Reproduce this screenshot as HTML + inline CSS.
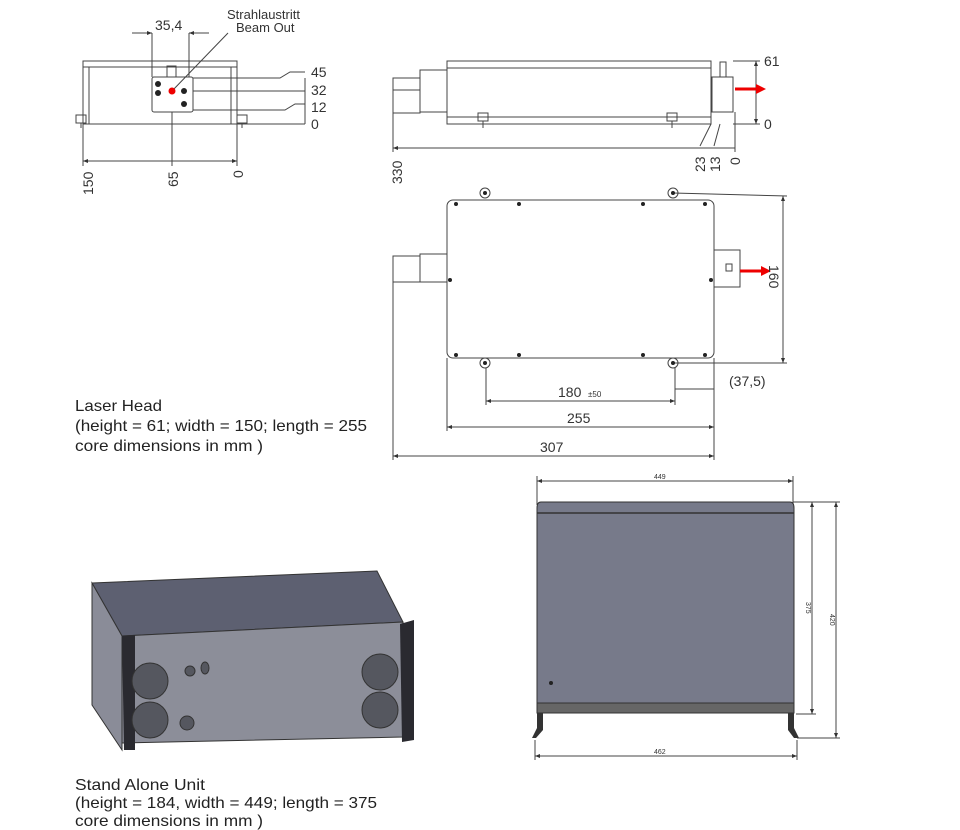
<!DOCTYPE html>
<html><head><meta charset="utf-8"><style>
html,body{margin:0;padding:0;background:#fff;}
svg{display:block;font-family:"Liberation Sans",sans-serif;}
</style></head><body>
<svg width="960" height="830" viewBox="0 0 960 830" xmlns="http://www.w3.org/2000/svg">
<defs>
<marker id="a" viewBox="0 0 10 10" refX="10" refY="5" markerWidth="6" markerHeight="5" orient="auto-start-reverse"><path d="M0,1 L10,5 L0,9z" fill="#333"/></marker>
</defs>
<g fill="none" stroke="#444" stroke-width="1">
<rect x="83" y="61" width="154" height="63"/>
<line x1="83" y1="67" x2="237" y2="67"/>
<line x1="89" y1="67" x2="89" y2="124"/><line x1="231" y1="67" x2="231" y2="124"/>
<rect x="76" y="115" width="10" height="8"/><line x1="81" y1="123" x2="81" y2="128"/>
<rect x="237" y="115" width="10" height="8"/><line x1="242" y1="123" x2="242" y2="128"/>
<rect x="152" y="77" width="41" height="35" rx="2"/>
<rect x="167" y="66" width="9" height="11"/>
<line x1="152" y1="33" x2="152" y2="77"/><line x1="189" y1="33" x2="189" y2="77"/>
<line x1="132" y1="33" x2="152" y2="33" marker-end="url(#a)"/>
<line x1="209" y1="33" x2="189" y2="33" marker-end="url(#a)"/>
<line x1="172" y1="91" x2="228" y2="33"/>
<line x1="172" y1="112" x2="172" y2="166"/>
<line x1="83" y1="124" x2="83" y2="166"/><line x1="237" y1="124" x2="237" y2="166"/>
<line x1="172" y1="161" x2="83" y2="161" marker-end="url(#a)"/>
<line x1="172" y1="161" x2="237" y2="161" marker-end="url(#a)"/>
<path d="M193 78 L280 78 L290 72 L305 72"/>
<path d="M193 91 L305 91"/>
<path d="M193 110 L285 110 L295 104 L305 104"/>
<path d="M237 124 L305 124"/>
<line x1="305" y1="78" x2="305" y2="124"/>
<rect x="447" y="61" width="264" height="63"/>
<line x1="447" y1="68" x2="711" y2="68"/>
<line x1="447" y1="117" x2="711" y2="117"/>
<rect x="420" y="70" width="27" height="42"/>
<rect x="393" y="78" width="27" height="35"/>
<line x1="393" y1="90" x2="420" y2="90"/>
<rect x="478" y="113" width="10" height="8"/><line x1="483" y1="121" x2="483" y2="128"/>
<rect x="667" y="113" width="10" height="8"/><line x1="672" y1="121" x2="672" y2="128"/>
<rect x="712" y="77" width="21" height="35"/>
<rect x="720" y="62" width="6" height="15"/>
<line x1="733" y1="61" x2="760" y2="61"/><line x1="733" y1="124" x2="760" y2="124"/>
<line x1="756" y1="92" x2="756" y2="61" marker-end="url(#a)"/>
<line x1="756" y1="92" x2="756" y2="124" marker-end="url(#a)"/>
<line x1="393" y1="113" x2="393" y2="152"/>
<path d="M711 124 L700 146"/><path d="M720 124 L714 146"/><line x1="735" y1="112" x2="735" y2="152"/>
<line x1="560" y1="148" x2="393" y2="148" marker-end="url(#a)"/>
<line x1="560" y1="148" x2="735" y2="148"/>
<rect x="447" y="200" width="267" height="158" rx="6"/>
<rect x="420" y="254" width="27" height="28"/>
<rect x="393" y="256" width="27" height="26"/>
<rect x="714" y="250" width="26" height="37"/>
<rect x="726" y="264" width="6" height="7"/>
<circle cx="485" cy="193" r="5"/><circle cx="673" cy="193" r="5"/>
<circle cx="485" cy="363" r="5"/><circle cx="673" cy="363" r="5"/>
<line x1="673" y1="193" x2="787" y2="196"/><line x1="673" y1="363" x2="787" y2="363"/>
<line x1="783" y1="280" x2="783" y2="196" marker-end="url(#a)"/>
<line x1="783" y1="280" x2="783" y2="363" marker-end="url(#a)"/>
<line x1="486" y1="368" x2="486" y2="405"/><line x1="675" y1="368" x2="675" y2="405"/>
<line x1="580" y1="401" x2="486" y2="401" marker-end="url(#a)"/>
<line x1="580" y1="401" x2="675" y2="401" marker-end="url(#a)"/>
<line x1="675" y1="389" x2="714" y2="389"/>
<line x1="714" y1="358" x2="714" y2="460"/>
<line x1="447" y1="358" x2="447" y2="431"/>
<line x1="393" y1="282" x2="393" y2="460"/>
<line x1="580" y1="427" x2="447" y2="427" marker-end="url(#a)"/>
<line x1="580" y1="427" x2="714" y2="427" marker-end="url(#a)"/>
<line x1="553" y1="456" x2="393" y2="456" marker-end="url(#a)"/>
<line x1="553" y1="456" x2="714" y2="456" marker-end="url(#a)"/>
<line x1="537" y1="476" x2="537" y2="505"/><line x1="793" y1="476" x2="793" y2="505"/>
<line x1="665" y1="481" x2="537" y2="481" marker-end="url(#a)"/>
<line x1="665" y1="481" x2="793" y2="481" marker-end="url(#a)"/>
<line x1="793" y1="502" x2="840" y2="502"/><line x1="796" y1="714" x2="816" y2="714"/><line x1="797" y1="738" x2="840" y2="738"/>
<line x1="812" y1="608" x2="812" y2="502" marker-end="url(#a)"/>
<line x1="812" y1="608" x2="812" y2="714" marker-end="url(#a)"/>
<line x1="836" y1="620" x2="836" y2="502" marker-end="url(#a)"/>
<line x1="836" y1="620" x2="836" y2="738" marker-end="url(#a)"/>
<line x1="535" y1="740" x2="535" y2="760"/><line x1="797" y1="740" x2="797" y2="760"/>
<line x1="665" y1="756" x2="535" y2="756" marker-end="url(#a)"/>
<line x1="665" y1="756" x2="797" y2="756" marker-end="url(#a)"/>
</g>
<g fill="#222">
<circle cx="158" cy="84" r="3"/><circle cx="158" cy="93" r="3"/><circle cx="184" cy="91" r="3"/><circle cx="184" cy="104" r="3"/>
<circle cx="456" cy="204" r="2"/><circle cx="519" cy="204" r="2"/><circle cx="643" cy="204" r="2"/><circle cx="705" cy="204" r="2"/>
<circle cx="456" cy="355" r="2"/><circle cx="519" cy="355" r="2"/><circle cx="643" cy="355" r="2"/><circle cx="705" cy="355" r="2"/>
<circle cx="450" cy="280" r="2"/><circle cx="711" cy="280" r="2"/>
<circle cx="485" cy="193" r="2"/><circle cx="673" cy="193" r="2"/><circle cx="485" cy="363" r="2"/><circle cx="673" cy="363" r="2"/>
</g>
<circle cx="172" cy="91" r="3.5" fill="#e00"/>
<g fill="#e00" stroke="#e00" stroke-width="3">
<line x1="735" y1="89" x2="757" y2="89"/><path d="M756 84 L766 89 L756 94z" stroke="none"/>
<line x1="740" y1="271" x2="762" y2="271"/><path d="M761 266 L771 271 L761 276z" stroke="none"/>
</g>
<g fill="#333" font-size="14">
<text x="155" y="30">35,4</text>
<text x="227" y="19" font-size="13">Strahlaustritt</text>
<text x="236" y="32" font-size="13">Beam Out</text>
<text x="311" y="77">45</text><text x="311" y="95">32</text><text x="311" y="112">12</text><text x="311" y="129">0</text>
<text transform="translate(93,195) rotate(-90)">150</text>
<text transform="translate(178,187) rotate(-90)">65</text>
<text transform="translate(243,178) rotate(-90)">0</text>
<text x="764" y="66">61</text><text x="764" y="129">0</text>
<text transform="translate(402,184) rotate(-90)">330</text>
<text transform="translate(705,172) rotate(-90)">23</text>
<text transform="translate(720,172) rotate(-90)">13</text>
<text transform="translate(740,165) rotate(-90)">0</text>
<text transform="translate(769,265) rotate(90)">160</text>
<text x="558" y="397">180</text><text x="588" y="397" font-size="8">±50</text>
<text x="729" y="386">(37,5)</text>
<text x="567" y="423">255</text>
<text x="540" y="452">307</text>
<text x="654" y="479" font-size="7">449</text>
<text x="654" y="754" font-size="7">462</text>
<text transform="translate(806,602) rotate(90)" font-size="7">375</text>
<text transform="translate(830,614) rotate(90)" font-size="7">420</text>
</g>
<g fill="#222" font-size="16">
<text x="75" y="411" textLength="87" lengthAdjust="spacingAndGlyphs">Laser Head</text>
<text x="75" y="431" textLength="292" lengthAdjust="spacingAndGlyphs">(height = 61; width = 150; length = 255</text>
<text x="75" y="451" textLength="188" lengthAdjust="spacingAndGlyphs">core dimensions in mm )</text>
<text x="75" y="790" textLength="130" lengthAdjust="spacingAndGlyphs">Stand Alone Unit</text>
<text x="75" y="808" textLength="302" lengthAdjust="spacingAndGlyphs">(height = 184, width = 449; length = 375</text>
<text x="75" y="826" textLength="188" lengthAdjust="spacingAndGlyphs">core dimensions in mm )</text>
</g>
<polygon points="92,583 377,571 403,622 122,636" fill="#5d6071" stroke="#333"/>
<polygon points="92,583 122,636 122,750 92,705" fill="#8a8c98" stroke="#333"/>
<polygon points="122,636 403,622 403,737 122,743" fill="#8c8e99" stroke="#333"/>
<polygon points="122,636 135,635 135,750 124,750" fill="#2a2a30"/>
<polygon points="400,624 414,620 414,740 402,742" fill="#2a2a30"/>
<g fill="#55575f" stroke="#333">
<circle cx="150" cy="681" r="18"/><circle cx="150" cy="720" r="18"/>
<circle cx="380" cy="672" r="18"/><circle cx="380" cy="710" r="18"/>
<circle cx="187" cy="723" r="7"/><circle cx="190" cy="671" r="5"/><ellipse cx="205" cy="668" rx="4" ry="6"/>
</g>
<path d="M541 502 H790 Q794 502 794 508 V705 H537 V508 Q537 502 541 502Z" fill="#777a8a" stroke="#333"/>
<line x1="537" y1="513" x2="794" y2="513" stroke="#333" stroke-width="1.5"/>
<rect x="537" y="703" width="257" height="10" fill="#666" stroke="#333"/>
<path d="M537 713 H543 V730 L536 738 L532 738 L537 728Z M788 713 H794 V728 L799 738 L794 738 L788 730Z" fill="#333"/>
<circle cx="551" cy="683" r="2" fill="#222"/>
</svg>
</body></html>
